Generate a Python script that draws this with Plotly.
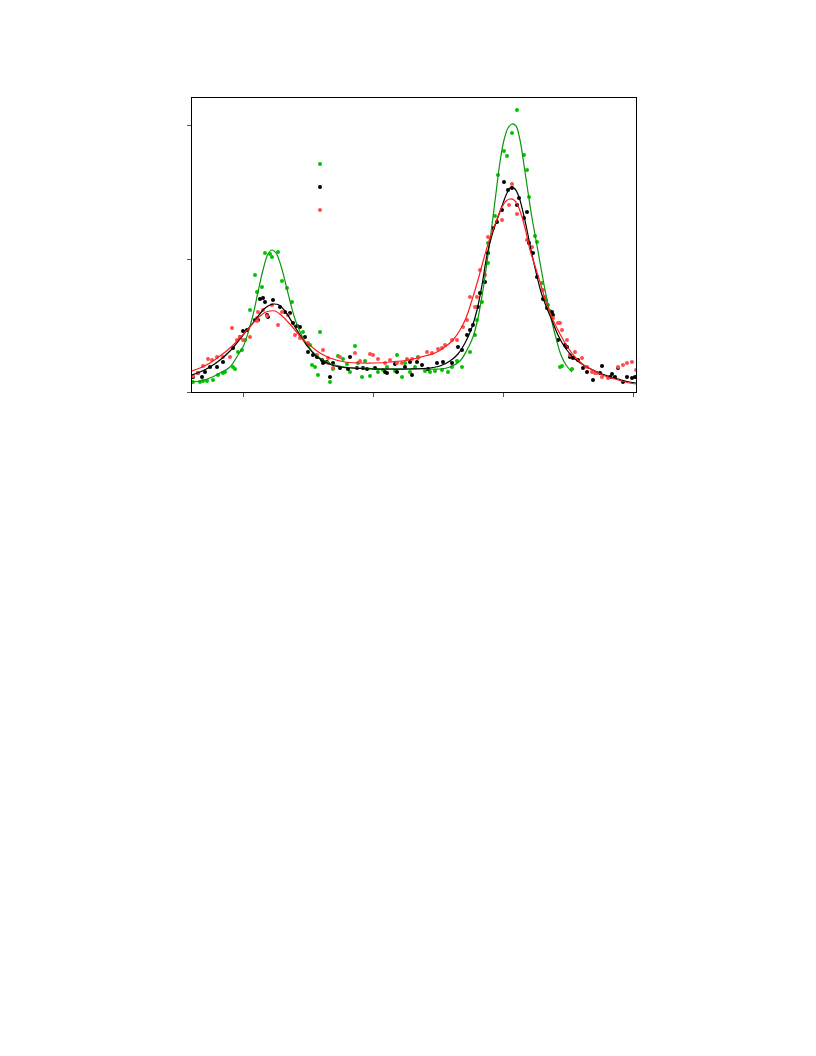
import plotly.graph_objects as go

# ---- data (arbitrary units) ----
green_x = [80, 87, 90, 94, 100, 105, 110, 112, 120, 122, 125, 129, 132, 137, 142, 144, 149, 152, 157, 159,
           165, 169, 174, 179, 190, 197, 199, 202, 205, 207, 212, 217, 220, 225, 230, 234, 237, 242, 245, 249,
           252, 257, 265, 270, 274, 282, 284, 289, 292, 297, 302, 305, 312, 317, 322, 329, 335, 339, 344, 349,
           357, 362, 364, 369, 375, 375, 382, 385, 391, 394, 399, 404, 411, 414, 416, 422, 424, 429, 433, 435,
           437, 447, 449, 459]
green_y = [10, 10, 11, 11, 12, 17, 19, 20, 25, 23, 40, 42, 52, 82, 117, 100, 105, 139, 138, 135,
           140, 111, 104, 90, 60, 47, 27, 25, 17, 60, 30, 10, 23, 36, 33, 28, 20, 46, 29, 15,
           31, 16, 20, 22, 25, 21, 37, 15, 29, 20, 25, 35, 21, 20, 21, 22, 20, 25, 31, 25,
           40, 57, 72, 90, 129, 149, 176, 217, 241, 236, 259, 282, 237, 222, 195, 156, 150, 109, 92, 87,
           81, 25, 26, 23]

black_x = [80, 85, 89, 92, 97, 104, 110, 120, 127, 130, 134, 142, 145, 147, 150, 152, 154, 155, 160, 167,
           172, 177, 180, 184, 187, 192, 195, 200, 204, 209, 210, 214, 217, 220, 227, 235, 237, 244, 250, 254,
           262, 272, 274, 282, 284, 292, 297, 299, 304, 309, 315, 324, 330, 339, 345, 349, 354, 357, 360, 365,
           367, 372, 375, 380, 384, 389, 391, 395, 399, 404, 406, 411, 414, 416, 420, 424, 430, 434, 439, 440,
           445, 452, 454, 457, 460, 465, 470, 474, 480, 487, 489, 497, 499, 502, 505, 510, 514, 519, 522]
black_y = [15, 19, 15, 20, 25, 25, 30, 44, 55, 61, 62, 72, 72, 93, 94, 90, 77, 75, 92, 85,
           80, 79, 69, 66, 65, 55, 40, 37, 35, 32, 29, 30, 15, 29, 24, 23, 35, 24, 24, 23,
           24, 20, 19, 28, 20, 25, 30, 17, 30, 27, 23, 29, 30, 29, 45, 42, 57, 62, 67, 85,
           99, 110, 139, 164, 170, 182, 210, 202, 204, 187, 194, 174, 180, 149, 139, 115, 93, 84, 80, 77,
           52, 47, 45, 35, 34, 32, 24, 20, 12, 19, 26, 15, 18, 15, 24, 10, 15, 14, 15]

red_x = [80, 85, 90, 95, 99, 104, 110, 117, 119, 124, 127, 130, 137, 144, 144, 145, 150, 154, 159, 165,
         169, 175, 182, 187, 195, 204, 210, 215, 215, 220, 227, 242, 247, 257, 260, 265, 272, 277, 284, 289,
         294, 299, 305, 314, 319, 325, 329, 332, 339, 344, 350, 354, 357, 362, 364, 367, 372, 375, 389, 396,
         399, 404, 414, 419, 430, 432, 440, 445, 447, 449, 454, 457, 462, 469, 474, 479, 482, 484, 489, 495,
         505, 510, 514, 519, 523]
red_y = [16, 19, 26, 33, 32, 35, 35, 35, 64, 52, 55, 52, 55, 74, 71, 80, 82, 76, 87, 67,
         80, 77, 57, 54, 49, 37, 42, 34, 29, 24, 35, 39, 31, 38, 37, 33, 29, 32, 29, 29,
         33, 33, 34, 40, 39, 43, 44, 47, 52, 52, 65, 72, 95, 85, 95, 122, 117, 155, 172, 187,
         208, 178, 152, 145, 102, 95, 74, 69, 69, 62, 52, 37, 40, 34, 25, 20, 19, 19, 15, 14,
         25, 27, 29, 30, 22]

green_fit_x = [79, 87, 97, 107, 117, 125, 130, 135, 140, 145, 150, 155, 159, 163, 168, 173, 178, 183, 189, 195,
               203, 212, 222, 232, 247, 267, 287, 307, 327, 337, 347, 354, 360, 365, 370, 375, 379, 383, 387, 391,
               395, 399, 403, 407, 411, 415, 419, 423, 428, 433, 438, 443, 448, 453, 459]
green_fit_y = [10, 11, 14, 19, 25, 37, 45, 59, 77, 100, 122, 138, 142, 139, 126, 107, 87, 70, 56, 46,
               37, 31, 27, 25, 24, 23, 23, 23, 23, 25, 31, 42, 55, 74, 102, 137, 167, 199, 230, 252,
               264, 268, 266, 252, 227, 200, 174, 152, 124, 97, 74, 54, 37, 27, 20]

black_fit_x = [79, 87, 97, 107, 117, 127, 135, 143, 151, 157, 161, 166, 172, 179, 187, 195, 203, 212, 222, 237,
               257, 277, 297, 317, 327, 337, 345, 352, 358, 364, 369, 374, 379, 384, 389, 394, 398, 402, 406, 410,
               414, 418, 423, 428, 433, 438, 445, 453, 462, 472, 482, 492, 502, 512, 523]
black_fit_y = [17, 20, 25, 32, 41, 53, 63, 73, 83, 87, 88, 87, 81, 70, 57, 45, 36, 30, 26, 24,
               23, 23, 23, 24, 26, 31, 38, 49, 62, 82, 107, 137, 157, 172, 186, 199, 205, 203, 195, 180,
               162, 142, 120, 100, 86, 74, 57, 43, 33, 26, 21, 17, 14, 11, 9]

red_fit_x = [79, 87, 97, 107, 117, 127, 135, 143, 151, 157, 162, 168, 175, 182, 190, 199, 207, 217, 232, 247,
             262, 277, 295, 312, 322, 332, 340, 347, 353, 359, 365, 371, 377, 383, 388, 393, 397, 401, 405, 409,
             413, 417, 422, 427, 433, 440, 447, 455, 463, 472, 482, 492, 502, 512, 523]
red_fit_y = [21, 24, 29, 36, 44, 54, 63, 72, 79, 81, 81, 77, 70, 62, 52, 45, 39, 34, 30, 29,
             29, 30, 32, 36, 39, 45, 52, 62, 74, 92, 112, 134, 154, 170, 183, 191, 193, 192, 186, 175,
             160, 142, 126, 110, 90, 72, 58, 44, 34, 26, 21, 16, 13, 10, 8]

x_ticks = [130, 260, 390, 520]
y_ticks = [0, 133, 267]

# ---- styles ----
GREEN_PT, GREEN_LN = "#00c400", "#0a960a"
BLACK_PT, BLACK_LN = "#000000", "#000000"
RED_PT, RED_LN = "#ff4d4d", "#ff1a1a"

fig = go.Figure()
for x, y, c in [(green_x, green_y, GREEN_PT), (black_x, black_y, BLACK_PT), (red_x, red_y, RED_PT)]:
    fig.add_trace(go.Scatter(x=x, y=y, mode="markers", name=" ",
                             marker=dict(color=c, size=4, line=dict(width=0)), showlegend=True))
for x, y, c in [(green_fit_x, green_fit_y, GREEN_LN), (black_fit_x, black_fit_y, BLACK_LN),
                (red_fit_x, red_fit_y, RED_LN)]:
    fig.add_trace(go.Scatter(x=x, y=y, mode="lines", line=dict(color=c, width=1.2, shape="spline"),
                             showlegend=False))

fig.update_layout(
    width=816, height=1056,
    margin=dict(l=184, r=188, t=90, b=672),
    paper_bgcolor="white", plot_bgcolor="white",
    showlegend=True,
    legend=dict(x=(300 - 192) / 444, y=(392 - 147.5) / 294, xanchor="left", yanchor="top",
                bgcolor="rgba(0,0,0,0)", borderwidth=0, font=dict(size=15.4, color="black"),
                traceorder="normal"),
    xaxis=dict(range=[79, 523], tickvals=x_ticks, showticklabels=False, ticks="outside", ticklen=4,
               tickcolor="#555", showgrid=False, zeroline=False, showline=True, linecolor="black",
               linewidth=1, mirror=True),
    yaxis=dict(range=[0, 294], tickvals=y_ticks, showticklabels=False, ticks="outside", ticklen=4,
               tickcolor="#555", showgrid=False, zeroline=False, showline=True, linecolor="black",
               linewidth=1, mirror=True),
)

fig.write_html("out.html")
